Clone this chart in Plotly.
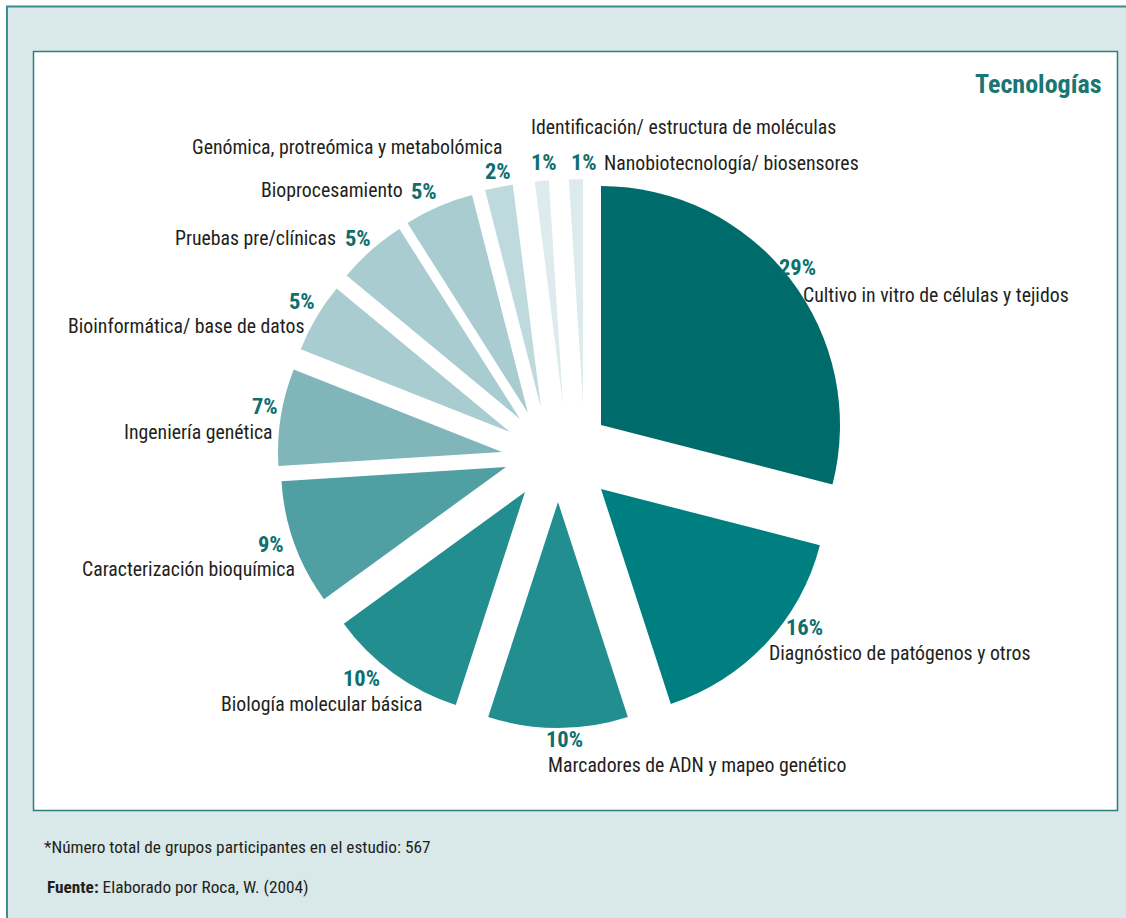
import plotly.graph_objects as go

# ---------------- data ----------------
categories = [
    "Cultivo in vitro de células y tejidos",
    "Diagnóstico de patógenos y otros",
    "Marcadores de ADN y mapeo genético",
    "Biología molecular básica",
    "Caracterización bioquímica",
    "Ingeniería genética",
    "Bioinformática/ base de datos",
    "Pruebas pre/clínicas",
    "Bioprocesamiento",
    "Genómica, protreómica y metabolómica",
    "Identificación/ estructura de moléculas",
    "Nanobiotecnología/ biosensores",
]
percentages = [29, 16, 10, 10, 9, 7, 5, 5, 5, 2, 1, 1]
title_text = "Tecnologías"
footnote_text = "*Número total de grupos participantes en el estudio: 567"
source_label = "Fuente:"
source_text = "Elaborado por Roca, W. (2004)"

# ---------------- style ----------------
W, H = 1126, 918
slice_colors = ["#006B6B", "#007F80", "#228E8F", "#228E8F", "#509FA3", "#80B6B9",
                "#A9CCD0", "#A9CCD0", "#A9CCD0", "#BFDADD", "#DDEBED", "#DDEBED"]
# exploded slice tip (px) and radius (px)
slice_tip = [(601, 425), (601, 489), (558, 502), (525, 492), (506, 467), (502, 452),
             (510, 432), (520, 419), (528, 413), (541, 408), (563, 405), (583, 404)]
slice_radius = [239, 226, 226, 224, 225, 224, 225, 225, 225, 225, 225, 225]

# label placement: (x, y, xanchor) for name and for percentage
name_pos = [(802, 295, "left"), (768, 653, "left"), (547, 765, "left"), (423, 704, "right"),
            (296, 569, "right"), (274, 432, "right"), (305, 326, "right"), (337, 238, "right"),
            (404, 190, "right"), (503, 148, "right"), (530, 128, "left"), (603, 163, "left")]
pct_pos = [(778, 267, "left"), (785, 627, "left"), (545, 739, "left"), (381, 678, "right"),
           (285, 544, "right"), (279, 406, "right"), (316, 301, "right"), (344, 238, "left"),
           (410, 191, "left"), (512, 171, "right"), (530, 162, "left"), (570, 162, "left")]

FONT = "Liberation Sans Narrow, Arial Narrow, Roboto Condensed, Liberation Sans, sans-serif"
TEAL_TXT = "#0E6F6E"
DARK_TXT = "#231F20"


def px(x):
    return x / W


def py(y):
    return 1 - y / H


fig = go.Figure()

for i in range(len(categories)):
    cx, cy = slice_tip[i]
    r = slice_radius[i]
    cols = ["rgba(0,0,0,0)"] * len(categories)
    cols[i] = slice_colors[i]
    fig.add_trace(go.Pie(
        labels=categories,
        values=percentages,
        sort=False,
        direction="clockwise",
        rotation=0,
        textinfo="none",
        hoverinfo="skip",
        showlegend=False,
        marker=dict(colors=cols, line=dict(width=0)),
        domain=dict(x=[px(cx - r), px(cx + r)], y=[py(cy + r), py(cy - r)]),
    ))

shapes = [
    dict(type="rect", xref="paper", yref="paper", x0=px(7), x1=px(1135), y0=py(930), y1=py(6.5),
         fillcolor="#D9E8E8", line=dict(color="#3E8C8C", width=2), layer="below"),
    dict(type="rect", xref="paper", yref="paper", x0=px(33.5), x1=px(1117.5), y0=py(810.5), y1=py(51.5),
         fillcolor="#FFFFFF", line=dict(color="#2F7E7F", width=1.5), layer="below"),
]

annotations = []
for i, cat in enumerate(categories):
    x, y, xa = name_pos[i]
    annotations.append(dict(x=px(x), y=py(y), xref="paper", yref="paper", text=cat,
                            showarrow=False, xanchor=xa, yanchor="middle", borderpad=0,
                            font=dict(family=FONT, size=19.8, color=DARK_TXT)))
    x, y, xa = pct_pos[i]
    annotations.append(dict(x=px(x), y=py(y), xref="paper", yref="paper",
                            text=f"<b>{percentages[i]}%</b>",
                            showarrow=False, xanchor=xa, yanchor="middle", borderpad=0,
                            font=dict(family=FONT, size=22.5, color=TEAL_TXT)))

annotations.append(dict(x=px(1104), y=py(84), xref="paper", yref="paper",
                        text=f"<b>{title_text}</b>", showarrow=False, xanchor="right",
                        yanchor="middle", font=dict(family=FONT, size=26, color="#1A7674")))
annotations.append(dict(x=px(42), y=py(847), xref="paper", yref="paper",
                        text=footnote_text, showarrow=False, xanchor="left",
                        yanchor="middle", font=dict(family=FONT, size=17.3, color=DARK_TXT)))
annotations.append(dict(x=px(45), y=py(887), xref="paper", yref="paper",
                        text=f"<b>{source_label}</b> {source_text}", showarrow=False,
                        xanchor="left", yanchor="middle",
                        font=dict(family=FONT, size=17.3, color=DARK_TXT)))

fig.update_layout(
    width=W, height=H,
    margin=dict(l=0, r=0, t=0, b=0),
    paper_bgcolor="#FFFFFF",
    plot_bgcolor="#FFFFFF",
    shapes=shapes,
    annotations=annotations,
)

fig.write_html("out.html", config={"displayModeBar": False},
               post_script="document.body.style.margin='0px';")
